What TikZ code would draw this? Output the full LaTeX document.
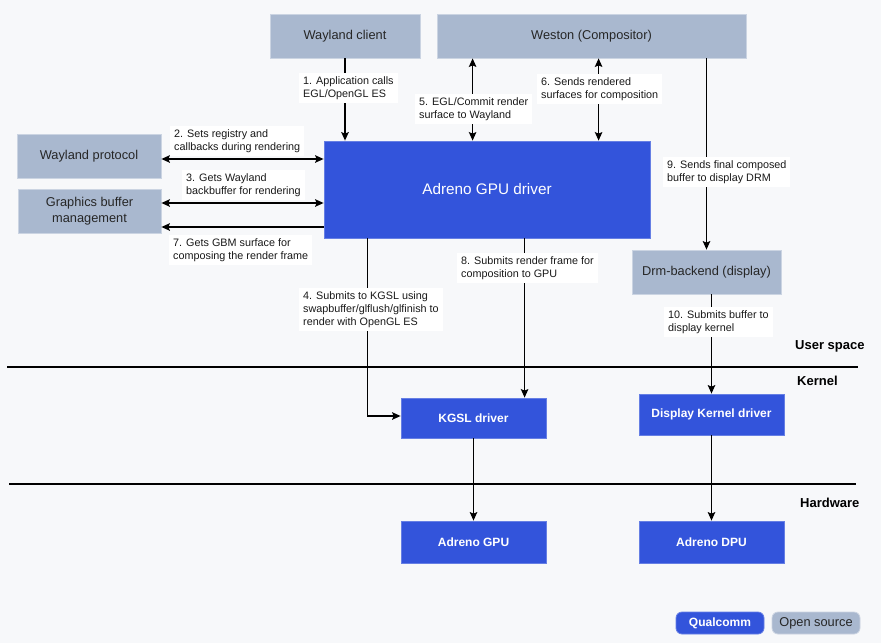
\documentclass[tikz,border=0pt]{standalone}
\usepackage{fontspec}
\setmainfont{Liberation Sans}
\usetikzlibrary{arrows.meta}
\usetikzlibrary{positioning}

\definecolor{bgcol}{HTML}{F7F8FA}
\definecolor{osgray}{HTML}{A9B8CF}
\definecolor{qcblue}{HTML}{3354DB}

\tikzset{
  osbox/.style={fill=osgray, draw=osgray!60!white, line width=0.8pt, text=black!85,
    font=\fontsize{12.8}{16.5}\selectfont, align=center, inner sep=0pt},
  qcbox/.style={fill=qcblue, draw=qcblue!75!white, line width=0.8pt, text=white,
    font=\bfseries\fontsize{12}{15}\selectfont, align=center, inner sep=0pt},
  lbl/.style={fill=white, align=left, anchor=north west, inner xsep=4pt, inner ysep=3.5pt,
    font=\fontsize{10.8}{12.8}\selectfont, text=black!90},
  tip/.tip={Stealth[length=8.5pt, width=7.5pt, inset=1.5pt]},
  arr/.style={-tip, line width=1.3pt},
  darr/.style={tip-tip, line width=1.3pt},
  layer/.style={anchor=west, inner sep=0pt, font=\bfseries\fontsize{13}{15}\selectfont},
  divider/.style={line width=2pt},
}

\begin{document}
\begin{tikzpicture}[x=1pt, y=-1pt]
  \fill[bgcol] (0,0) rectangle (881,643);
  \useasboundingbox (0,0) rectangle (881,643);

  % user space
  \node[osbox, minimum width=150pt, minimum height=44pt] (client) at (345,36)   {Wayland client};
  \node[osbox, minimum width=309pt, minimum height=44pt] (weston) at (591.5,36) {Weston (Compositor)};
  \node[osbox, minimum width=144pt, minimum height=44pt] (proto)  at (89,156)   {Wayland protocol};
  \node[osbox, minimum width=143pt, minimum height=44pt] (gbm)    at (89.5,211) {Graphics buffer\\management};
  \node[qcbox, font=\fontsize{15.3}{18}\selectfont,
        minimum width=326pt, minimum height=97pt]        (gpudrv) at (487,189.5) {Adreno GPU driver};
  \node[osbox, minimum width=149pt, minimum height=44pt] (drm)    at (706.5,272) {Drm-backend (display)};

  % kernel and hardware
  \node[qcbox, minimum width=145pt, minimum height=40pt] (kgsl)    at (473.5,418)   {KGSL driver};
  \node[qcbox, minimum width=145pt, minimum height=41pt] (dispdrv) at (711.5,414.5) {Display Kernel driver};
  \node[qcbox, minimum width=145pt, minimum height=42pt] (gpu)     at (473.5,542)   {Adreno GPU};
  \node[qcbox, minimum width=145pt, minimum height=42pt] (dpu)     at (711.5,542)   {Adreno DPU};

  % legend
  \node[qcbox, rounded corners=6pt, minimum width=88pt, minimum height=22pt] (qc) at (720,623) {Qualcomm};
  \node[osbox, rounded corners=6pt, minimum width=88pt, minimum height=22pt] (os) at (816,623) {Open source};

  % layers
  \draw[divider] (7,367) -- (858,367);
  \draw[divider] (9,484) -- (856,484);
  \node[layer] (uspace) at (795,346) {User space};
  \node[layer] (kernel) at (797,381) {Kernel};
  \node[layer] (hw)     at (800,503) {Hardware};

  % arrow positions
  \coordinate (a2) at ([yshift=-3pt]proto.east);
  \coordinate (a3) at ([yshift=8pt]gbm.east);
  \coordinate (a7) at ([yshift=-16pt]gbm.east);
  \coordinate (a5) at ([xshift=149pt]gpudrv.north west);
  \coordinate (a6) at ([xshift=275pt]gpudrv.north west);
  \coordinate (a4) at ([xshift=44pt]gpudrv.south west);
  \coordinate (a8) at ([xshift=124pt]kgsl.north west);

  \draw[arr]  (client) -- (client |- gpudrv.north);
  \draw[darr] (a2) -- (a2 -| gpudrv.west);
  \draw[darr] (a3) -- (a3 -| gpudrv.west);
  \draw[arr]  (a7 -| gpudrv.west) -- (a7);
  \draw[darr] (a5) -- (a5 |- weston.south);
  \draw[darr] (a6) -- (a6 |- weston.south);
  \draw[arr]  (weston.south -| drm.north) -- (drm.north);
  \draw[arr]  (a4) |- ([yshift=2pt]kgsl.west);
  \draw[arr]  (a8 |- gpudrv.south) -- (a8);
  \draw[arr]  (dispdrv.north |- drm.south) -- (dispdrv.north);
  \draw[arr]  (kgsl) -- (gpu);
  \draw[arr]  (dispdrv) -- (dpu);

  % step labels
  \node[lbl] (l1)  at (299,73)  {1. Application calls\\EGL/OpenGL ES};
  \node[lbl] (l2)  at (170,126) {2. Sets registry and\\callbacks during rendering};
  \node[lbl] (l3)  at (182,170) {3. Gets Wayland\\backbuffer for rendering};
  \node[lbl] (l4)  at (299,288) {4. Submits to KGSL using\\swapbuffer/glflush/glfinish to\\render with OpenGL ES};
  \node[lbl] (l5)  at (415,94)  {5. EGL/Commit render\\surface to Wayland};
  \node[lbl] (l6)  at (537,74)  {6. Sends rendered\\surfaces for composition};
  \node[lbl] (l7)  at (169,235) {7. Gets GBM surface for\\composing the render frame};
  \node[lbl] (l8)  at (457,253) {8. Submits render frame for\\composition to GPU};
  \node[lbl] (l9)  at (663,157) {9. Sends final composed\\buffer to display DRM};
  \node[lbl] (l10) at (664,307) {10. Submits buffer to\\display kernel};
\end{tikzpicture}
\end{document}
